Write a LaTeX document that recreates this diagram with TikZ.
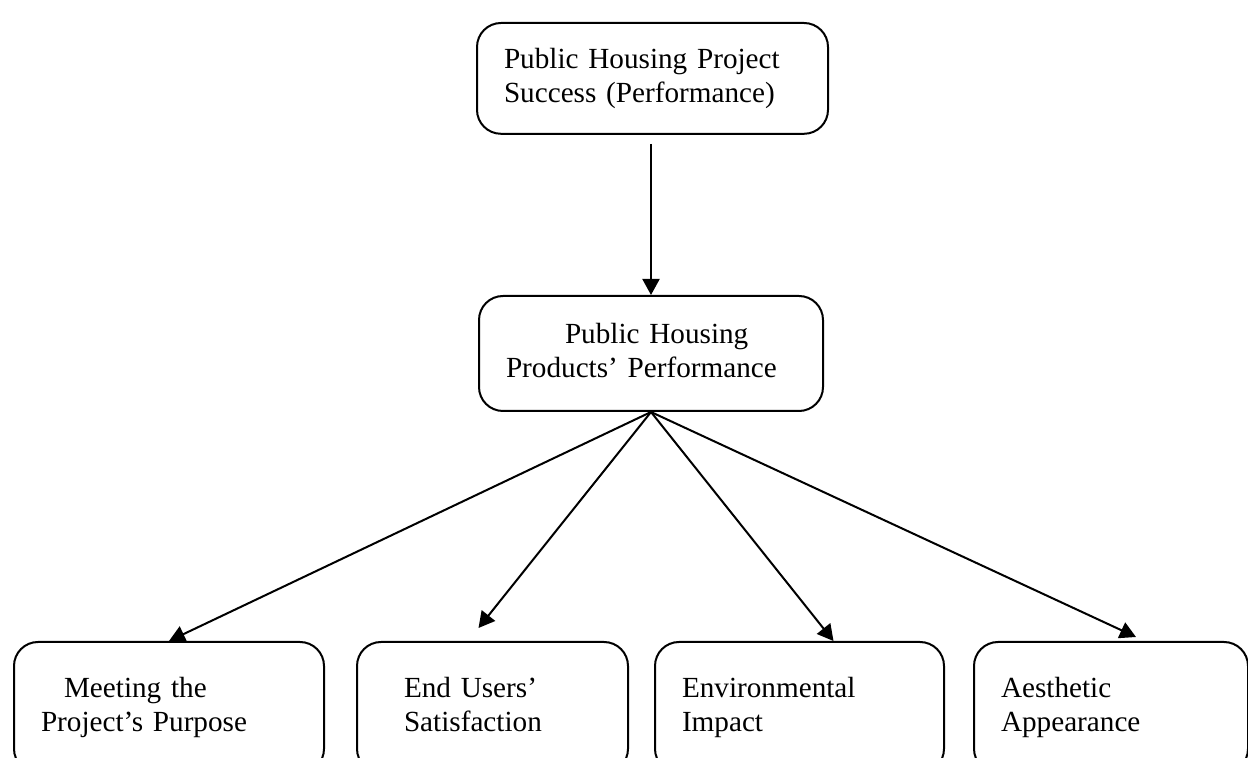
\documentclass[tikz,border=0pt]{standalone}
\usepackage{fontspec}
\setmainfont{Liberation Serif}
\usetikzlibrary{arrows.meta, positioning, calc}

\begin{document}
\begin{tikzpicture}[
  x=0.5pt, y=-0.5pt,
  >={Triangle[length=8pt, width=8.5pt]},
  box/.style={draw, line width=1pt, rounded corners=12pt, anchor=north west,
    align=left, inner xsep=13.5pt, inner ysep=0pt,
    execute at begin node=\strut, execute at end node=\strut,
    font=\fontsize{14.6pt}{17.25pt}\selectfont},
  link/.style={->, line width=1pt}
  ]
  \useasboundingbox (0,0) rectangle (1248,758);
  \clip (0,0) rectangle (1248,758);
  % top and middle levels
  \node[box, text width=148.5pt, minimum height=55.4pt] (succ) at (476,22)
    {Public Housing Project\\Success (Performance)};
  \node[box, text width=145pt, minimum height=57.5pt] (prod) at (478,295)
    {\hspace*{29.5pt}Public Housing\\Products’ Performance};
  % four criteria
  \node[box, text width=128pt, minimum height=65.4pt] (purp) at (13,641)
    {\hspace*{11.5pt}Meeting the\\Project’s Purpose};
  \node[box, text width=108.5pt, minimum height=65.4pt] (user) at (356,641)
    {\hspace*{10pt}End Users’\\\hspace*{10pt}Satisfaction};
  \node[box, text width=117.5pt, minimum height=65.4pt] (env) at (654,641)
    {Environmental\\Impact};
  \node[box, text width=110pt, minimum height=65.4pt] (aes) at (973,641)
    {Aesthetic\\Appearance};
  % connectors
  \draw[link, shorten <=4.5pt] (succ.south -| prod.north) -- (prod.north);
  \draw[link] (prod.south) -- (purp.north);
  \draw[link] (prod.south) -- ([xshift=-7pt, yshift=6.5pt]user.north);
  \draw[link] (prod.south) -- ([xshift=17pt]env.north);
  \draw[link] (prod.south) -- ([xshift=12.5pt, yshift=2pt]aes.north);
\end{tikzpicture}
\end{document}
